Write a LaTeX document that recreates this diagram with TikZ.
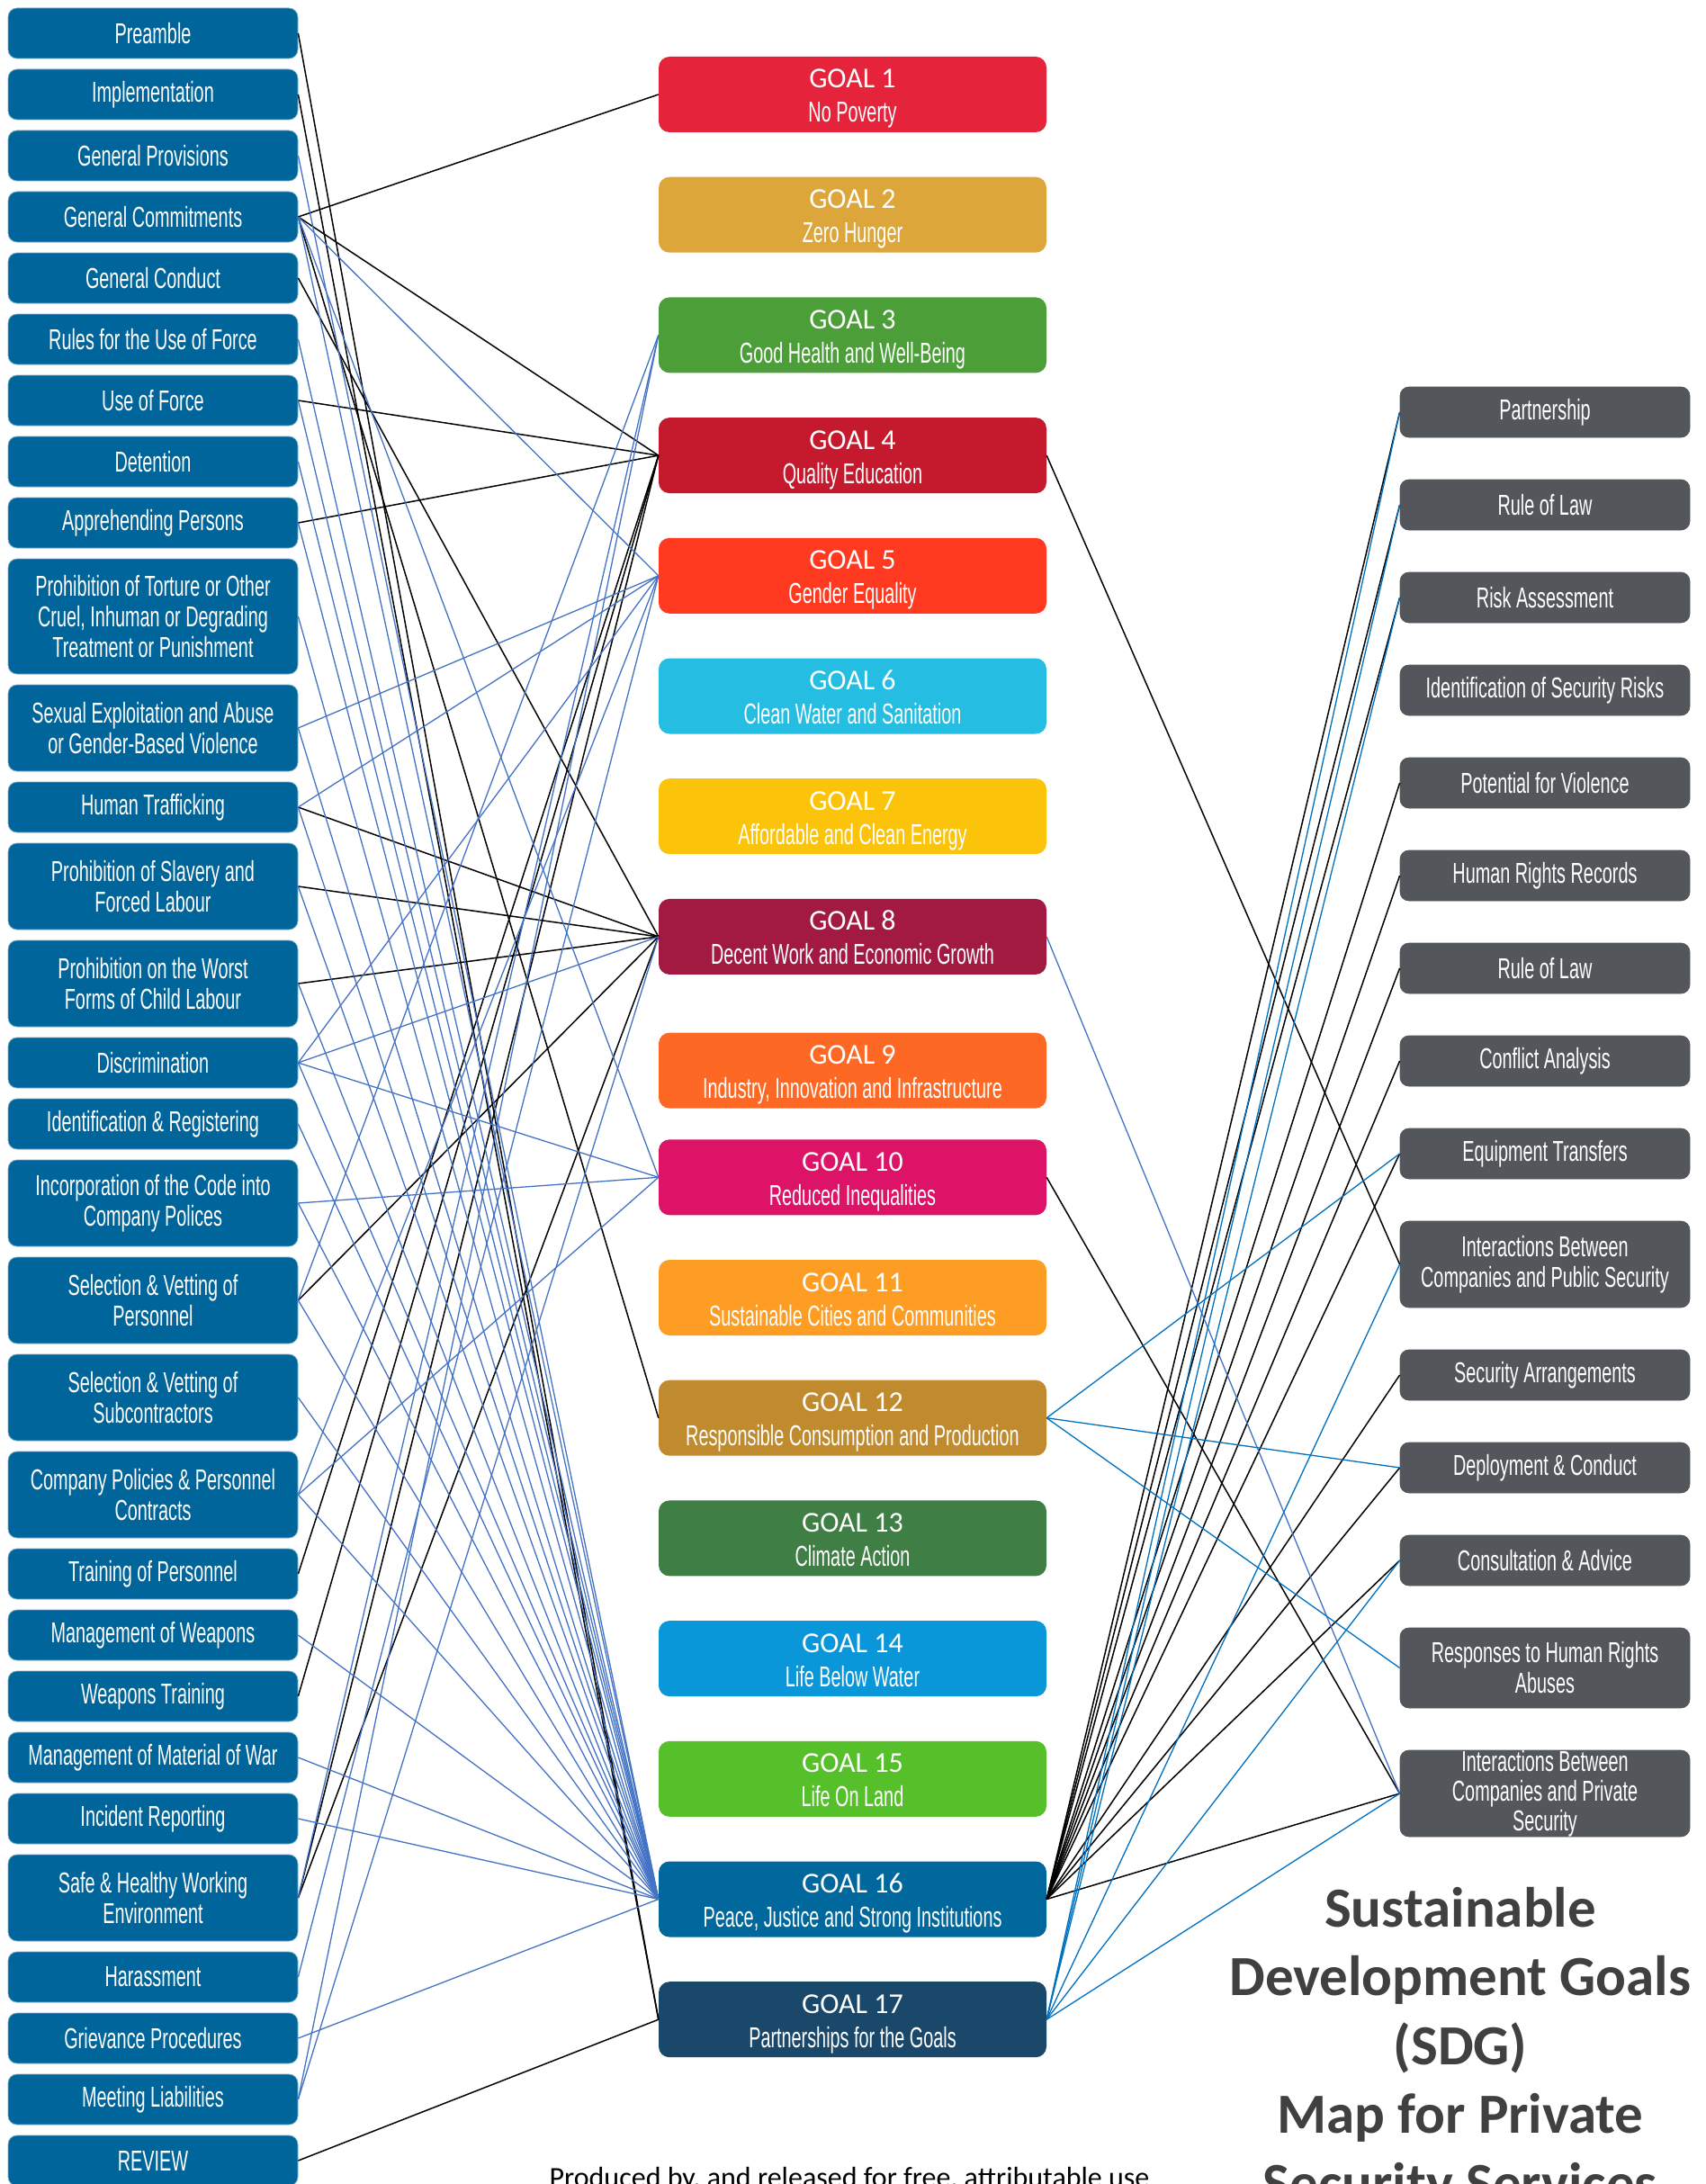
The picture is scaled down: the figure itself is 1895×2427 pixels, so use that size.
\documentclass[tikz,border=0pt]{standalone}
\usepackage{fontspec}
\setmainfont{Carlito}
\newfontfamily\agency[FakeStretch=0.62]{Liberation Sans}
\usetikzlibrary{positioning}
\definecolor{secblue}{HTML}{00659B}
\definecolor{vpgray}{HTML}{53565A}
\definecolor{linkblue}{HTML}{4472C4}
\definecolor{vpblue}{HTML}{0070C0}
\definecolor{titlegray}{HTML}{404040}
\definecolor{sdg1}{HTML}{E5243B}
\definecolor{sdg2}{HTML}{DDA63A}
\definecolor{sdg3}{HTML}{4C9F38}
\definecolor{sdg4}{HTML}{C5192D}
\definecolor{sdg5}{HTML}{FF3A21}
\definecolor{sdg6}{HTML}{26BDE2}
\definecolor{sdg7}{HTML}{FCC30B}
\definecolor{sdg8}{HTML}{A21942}
\definecolor{sdg9}{HTML}{FD6925}
\definecolor{sdg10}{HTML}{DD1367}
\definecolor{sdg11}{HTML}{FD9D24}
\definecolor{sdg12}{HTML}{BF8B2E}
\definecolor{sdg13}{HTML}{3F7E44}
\definecolor{sdg14}{HTML}{0A97D9}
\definecolor{sdg15}{HTML}{56C02B}
\definecolor{sdg16}{HTML}{00689D}
\definecolor{sdg17}{HTML}{19486A}
\newcommand{\goal}[2]{\rule{0pt}{31pt}GOAL #1\\{\agency #2}\rule[-7pt]{0pt}{7pt}}
\tikzset{
      code box/.style={
        fill=secblue,
        draw=secblue!55!white,
        line width=0.8pt,
        text=white,
        rounded corners=10pt,
        minimum width=322pt,
        inner xsep=3pt,
        align=center,
        minimum height={#1pt},
        font=\agency\fontsize{32}{34}\selectfont,
      },
      code box/.default=56,
      vp box/.style={
        code box=#1,
        fill=vpgray,
        draw=vpgray,
      },
      vp box/.default=56,
      goal box/.style={
        fill=#1,
        text=white,
        rounded corners=12pt,
        minimum width=431pt,
        minimum height=84pt,
        inner sep=4pt,
        align=center,
        font=\fontsize{32}{38}\selectfont,
      },
      black link/.style={black, line width=1.5pt},
      blue link/.style={linkblue, line width=1.3pt},
      vp link/.style={vpblue, line width=1.3pt},
  	}

\begin{document}
\begin{tikzpicture}[x=1pt, y=-1pt, node distance=11.2pt]
    \useasboundingbox (0,0) rectangle (1895,2427);

    % code of conduct sections
    \node [code box] (l1) at (170,37) {Preamble};
    \node [code box, below=of l1] (l2) {Implementation};
    \node [code box, below=of l2] (l3) {General Provisions};
    \node [code box, below=of l3] (l4) {General Commitments};
    \node [code box, below=of l4] (l5) {General Conduct};
    \node [code box, below=of l5] (l6) {Rules for the Use of Force};
    \node [code box, below=of l6] (l7) {Use of Force};
    \node [code box, below=of l7] (l8) {Detention};
    \node [code box, below=of l8] (l9) {Apprehending Persons};
    \node [code box=128, below=of l9] (l10) {Prohibition of Torture or Other\\Cruel, Inhuman or Degrading\\Treatment or Punishment};
    \node [code box=96, below=of l10] (l11) {Sexual Exploitation and Abuse\\or Gender-Based Violence};
    \node [code box, below=of l11] (l12) {Human Trafficking};
    \node [code box=96, below=of l12] (l13) {Prohibition of Slavery and\\Forced Labour};
    \node [code box=96, below=of l13] (l14) {Prohibition on the Worst\\Forms of Child Labour};
    \node [code box, below=of l14] (l15) {Discrimination};
    \node [code box, below=of l15] (l16) {Identification \& Registering};
    \node [code box=96, below=of l16] (l17) {Incorporation of the Code into\\Company Polices};
    \node [code box=96, below=of l17] (l18) {Selection \& Vetting of\\Personnel};
    \node [code box=96, below=of l18] (l19) {Selection \& Vetting of\\Subcontractors};
    \node [code box=96, below=of l19] (l20) {Company Policies \& Personnel\\Contracts};
    \node [code box, below=of l20] (l21) {Training of Personnel};
    \node [code box, below=of l21] (l22) {Management of Weapons};
    \node [code box, below=of l22] (l23) {Weapons Training};
    \node [code box, below=of l23] (l24) {Management of Material of War};
    \node [code box, below=of l24] (l25) {Incident Reporting};
    \node [code box=96, below=of l25] (l26) {Safe \& Healthy Working\\Environment};
    \node [code box, below=of l26] (l27) {Harassment};
    \node [code box, below=of l27] (l28) {Grievance Procedures};
    \node [code box, below=of l28] (l29) {Meeting Liabilities};
    \node [code box, below=of l29] (l30) {REVIEW};

    % goals
    \node [goal box=sdg1] (g1) at (947.5,105) {\goal{1}{No Poverty}};
    \node [goal box=sdg2, below=49.3pt of g1] (g2) {\goal{2}{Zero Hunger}};
    \node [goal box=sdg3, below=49.3pt of g2] (g3) {\goal{3}{Good Health and Well-Being}};
    \node [goal box=sdg4, below=49.3pt of g3] (g4) {\goal{4}{Quality Education}};
    \node [goal box=sdg5, below=49.3pt of g4] (g5) {\goal{5}{Gender Equality}};
    \node [goal box=sdg6, below=49.3pt of g5] (g6) {\goal{6}{Clean Water and Sanitation}};
    \node [goal box=sdg7, below=49.3pt of g6] (g7) {\goal{7}{Affordable and Clean Energy}};
    \node [goal box=sdg8, below=49.3pt of g7] (g8) {\goal{8}{Decent Work and Economic Growth}};
    \node [goal box=sdg9, below=64.3pt of g8] (g9) {\goal{9}{Industry, Innovation and Infrastructure}};
    \node [goal box=sdg10, below=34.3pt of g9] (g10) {\goal{10}{Reduced Inequalities}};
    \node [goal box=sdg11, below=49.3pt of g10] (g11) {\goal{11}{Sustainable Cities and Communities}};
    \node [goal box=sdg12, below=49.3pt of g11] (g12) {\goal{12}{Responsible Consumption and Production}};
    \node [goal box=sdg13, below=49.3pt of g12] (g13) {\goal{13}{Climate Action}};
    \node [goal box=sdg14, below=49.3pt of g13] (g14) {\goal{14}{Life Below Water}};
    \node [goal box=sdg15, below=49.3pt of g14] (g15) {\goal{15}{Life On Land}};
    \node [goal box=sdg16, below=49.3pt of g15] (g16) {\goal{16}{Peace, Justice and Strong Institutions}};
    \node [goal box=sdg17, below=49.3pt of g16] (g17) {\goal{17}{Partnerships for the Goals}};

    % voluntary principles
    \node [vp box] (r1) at (1717,458) {Partnership};
    \node [vp box, below=46.2pt of r1] (r2) {Rule of Law};
    \node [vp box, below=46.2pt of r2] (r3) {Risk Assessment};
    \node [vp box, below=46.2pt of r3] (r4) {Identification of Security Risks};
    \node [vp box, below=46.2pt of r4] (r5) {Potential for Violence};
    \node [vp box, below=46.2pt of r5] (r6) {Human Rights Records};
    \node [vp box, below=46.2pt of r6] (r7) {Rule of Law};
    \node [vp box, below=46.2pt of r7] (r8) {Conflict Analysis};
    \node [vp box, below=46.2pt of r8] (r9) {Equipment Transfers};
    \node [vp box=96, below=46.2pt of r9] (r10) {Interactions Between\\Companies and Public Security};
    \node [vp box, below=46.2pt of r10] (r11) {Security Arrangements};
    \node [vp box, below=46.2pt of r11] (r12) {Deployment \& Conduct};
    \node [vp box, below=46.2pt of r12] (r13) {Consultation \& Advice};
    \node [vp box=89, below=46.2pt of r13] (r14) {Responses to Human Rights\\Abuses};
    \node [vp box=96, inner ysep=0pt, font=\agency\fontsize{32}{33}\selectfont, below=46.2pt of r14] (r15) {Interactions Between\\Companies and Private\\Security};

    % links
    \foreach \a/\b in {l1/g17, l2/g17, l4/g1, l4/g4, l4/g12, l5/g8, l7/g4, l9/g4, l12/g8, l13/g8, l14/g8, l18/g8, l21/g4, l23/g4, l26/g4, l26/g8, l30/g17}
      \draw [black link] (\a.east) -- (\b.west);
    \foreach \a/\b in {l3/g16, l4/g5, l4/g10, l4/g16, l6/g16, l7/g16, l8/g16, l9/g16, l10/g16, l11/g5, l11/g16, l12/g5, l12/g16, l13/g16, l14/g16, l15/g5, l15/g8, l15/g10, l15/g16, l16/g16, l17/g10, l17/g16, l18/g3, l18/g16, l19/g16, l20/g5, l20/g10, l20/g16, l22/g16, l24/g16, l25/g16, l26/g3, l27/g5, l28/g16, l29/g3, l29/g8}
      \draw [blue link] (\a.east) -- (\b.west);
    \foreach \a/\b in {g4/r10, g10/r15, g16/r1, g16/r2, g16/r3, g16/r5, g16/r6, g16/r7, g16/r8, g16/r9, g16/r11, g16/r12, g16/r13, g16/r15}
      \draw [black link] (\a.east) -- (\b.west);
    \draw [blue link] (g8.east) -- (r15.west);
    \foreach \a/\b in {g12/r9, g12/r12, g12/r14, g17/r1, g17/r2, g17/r3, g17/r10, g17/r13, g17/r15}
      \draw [vp link] (\a.east) -- (\b.west);

    % title and credit
    \node [anchor=north, inner sep=0pt, align=center, text=titlegray, font=\bfseries\fontsize{63}{76.5}\selectfont] (title) at (1623,2097) {Sustainable\\Development Goals\\(SDG)\\Map for Private\\Security Services};
    \node [anchor=base, inner sep=0pt, font=\fontsize{32}{38}\selectfont] (credit) at (944,2430) {Produced by, and released for free, attributable use};
\end{tikzpicture}
\end{document}
